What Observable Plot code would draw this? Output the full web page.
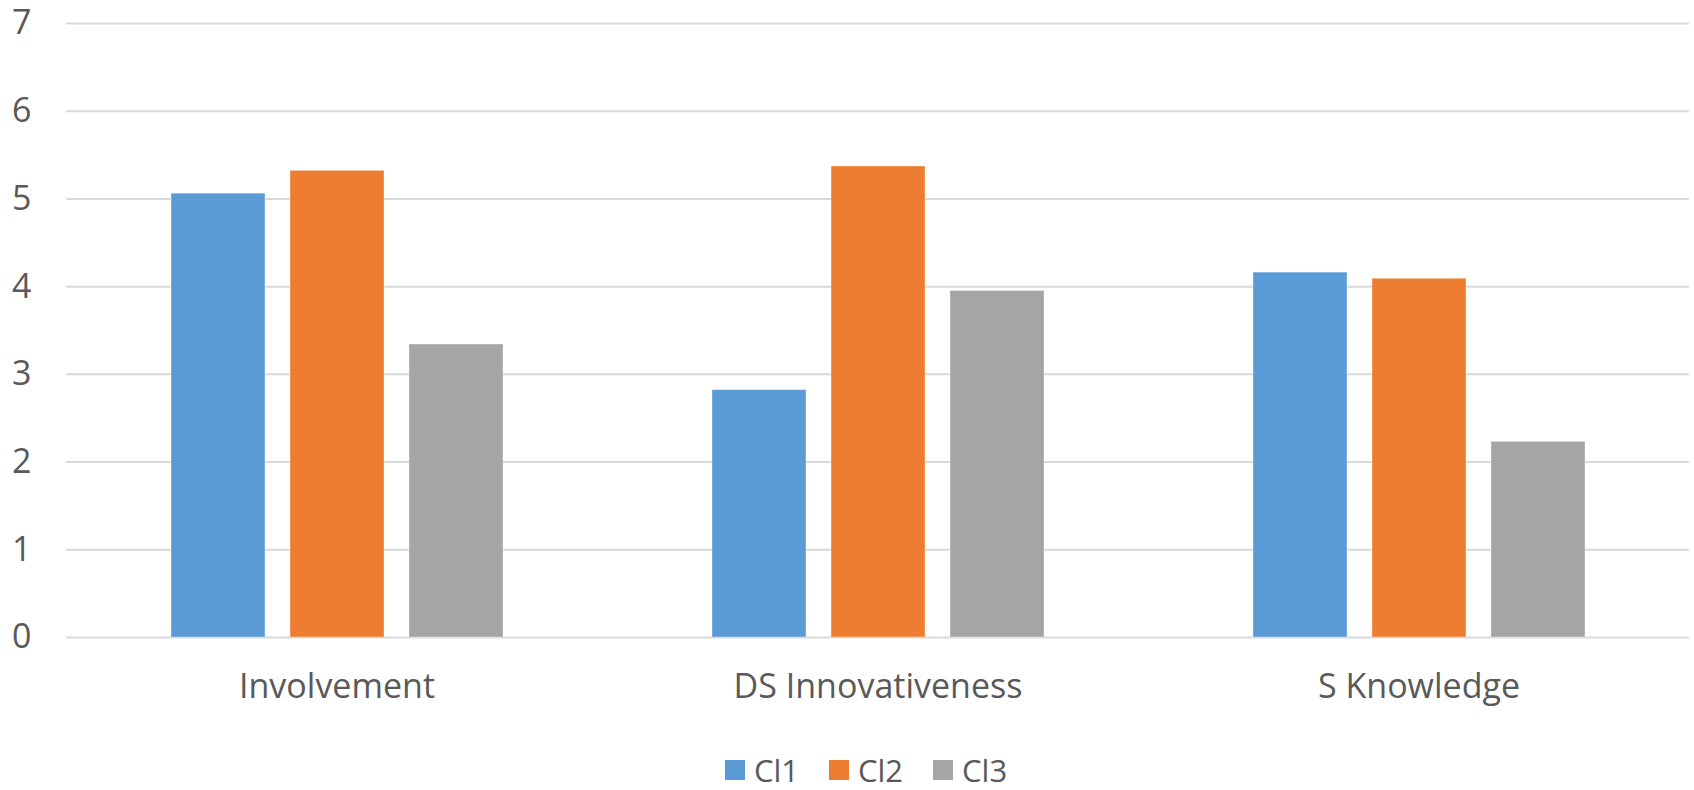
<!DOCTYPE html>
<html>
<head>
<meta charset="utf-8">
<script src="https://cdn.jsdelivr.net/npm/d3@7"></script>
<script src="https://cdn.jsdelivr.net/npm/@observablehq/plot@0.6"></script>
<style>
  html, body { margin: 0; padding: 0; background: #fff; }
  body { width: 1694px; height: 790px; overflow: hidden; font-family: "Open Sans", sans-serif; }
  #legend { display: flex; justify-content: center; align-items: center; height: 40px; color: #595959; font-size: 31px; padding-left: 38px; }
  .item { display: flex; align-items: center; margin: 0 15px; }
  .sw { width: 20px; height: 20px; margin-right: 9px; }
</style>
</head>
<body>
<div id="chart"></div>
<div id="legend"></div>
<script>
const categories = ["Involvement", "DS Innovativeness", "S Knowledge"];
const series = ["Cl1", "Cl2", "Cl3"];
const cl1 = [5.06, 2.82, 4.16];
const cl2 = [5.32, 5.37, 4.09];
const cl3 = [3.34, 3.95, 2.23];
const colors = ["#5B9BD5", "#ED7D31", "#A5A5A5"];
const yTicks = [0, 1, 2, 3, 4, 5, 6, 7];

const values = [cl1, cl2, cl3];
const data = [];
categories.forEach((c, i) => {
  series.forEach((s, j) => data.push({cat: c, series: s, value: values[j][i]}));
});

const plot = Plot.plot({
  width: 1694,
  height: 750,
  marginLeft: 65,
  marginRight: 4,
  marginTop: 23,
  marginBottom: 113,
  style: {fontFamily: "Open Sans, sans-serif", fontSize: "34px", color: "#595959", background: "#fff"},
  fx: {domain: categories, padding: 0, axis: "bottom", tickSize: 0, tickPadding: 36, label: null},
  x: {domain: series, paddingInner: 0.212, paddingOuter: 0.868, axis: null},
  y: {domain: [0, 7], ticks: yTicks, tickFormat: d => String(d), tickSize: 0, tickPadding: 35, label: null},
  color: {domain: series, range: colors},
  marks: [
    Plot.ruleY(yTicks, {stroke: "#D9D9D9", strokeWidth: 2}),
    Plot.barY(data, {fx: "cat", x: "series", y: "value", fill: "series", stroke: "#ffffff", strokeOpacity: 0.35, strokeWidth: 1})
  ]
});
document.getElementById("chart").appendChild(plot);

const legend = document.getElementById("legend");
series.forEach((s, j) => {
  const item = document.createElement("div");
  item.className = "item";
  const sw = document.createElement("div");
  sw.className = "sw";
  sw.style.background = colors[j];
  const t = document.createElement("span");
  t.textContent = s;
  item.appendChild(sw);
  item.appendChild(t);
  legend.appendChild(item);
});
</script>
</body>
</html>
